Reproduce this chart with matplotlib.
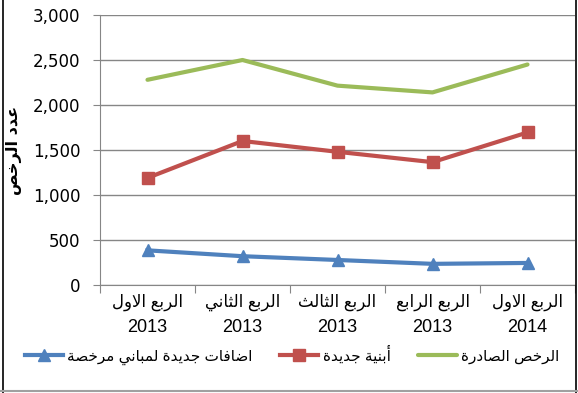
import numpy as np
import matplotlib
matplotlib.use("Agg")
from matplotlib import pyplot as plt
from matplotlib.lines import Line2D
from matplotlib.ticker import FuncFormatter, FixedLocator

# بيانات الرخص الصادرة لكل ربع
quarters = ["الربع الاول", "الربع الثاني", "الربع الثالث", "الربع الرابع", "الربع الاول"]
years = ["2013", "2013", "2013", "2013", "2014"]
issued = [2280, 2500, 2215, 2140, 2450]
new_buildings = [1190, 1600, 1480, 1365, 1695]
additions = [385, 320, 278, 235, 245]

series_names = ["الرخص الصادرة", "أبنية جديدة", "اضافات جديدة لمباني مرخصة"]
ylabel = "عدد الرخص"

# تشكيل الحروف العربية يدويا (لا يوجد arabic_reshaper)
FORMS = {
    'ا': (0xFE8D, 2), 'أ': (0xFE83, 2), 'ب': (0xFE8F, 4), 'ة': (0xFE93, 2),
    'ت': (0xFE95, 4), 'ث': (0xFE99, 4), 'ج': (0xFE9D, 4), 'خ': (0xFEA5, 4),
    'د': (0xFEA9, 2), 'ر': (0xFEAD, 2), 'ص': (0xFEB9, 4), 'ض': (0xFEBD, 4),
    'ع': (0xFEC9, 4), 'ف': (0xFED1, 4), 'ل': (0xFEDD, 4), 'م': (0xFEE1, 4),
    'ن': (0xFEE5, 4), 'و': (0xFEED, 2), 'ي': (0xFEF1, 4),
}


def dual(c):
    return c in FORMS and FORMS[c][1] == 4


def ar(s):
    res = []
    i = 0
    n = len(s)
    while i < n:
        c = s[i]
        if c not in FORMS:
            res.append(c)
            i += 1
            continue
        prev = s[i - 1] if i > 0 else None
        nxt = s[i + 1] if i + 1 < n else None
        conn_prev = dual(prev)
        if c == 'ل' and nxt in ('ا', 'أ'):
            base = 0xFEFB if nxt == 'ا' else 0xFEF7
            res.append(chr(base + (1 if conn_prev else 0)))
            i += 2
            continue
        base, nf = FORMS[c]
        conn_next = nf == 4 and nxt in FORMS
        if conn_prev and conn_next:
            k = 3
        elif conn_prev:
            k = 1
        elif conn_next:
            k = 2
        else:
            k = 0
        res.append(chr(base + k))
        i += 1
    return ''.join(reversed(res))


plt.rcParams['font.family'] = ['Liberation Sans', 'DejaVu Sans']

fig = plt.figure(figsize=(5.78, 3.93), dpi=100)
W, H = 578, 393
ax = fig.add_axes([100 / W, 1 - 285 / H, 475 / W, 270 / H])

x = np.arange(len(quarters))
green = '#9BBB59'
red = '#C0504D'
blue = '#4F81BD'

l1, = ax.plot(x, issued, color=green, lw=3, solid_capstyle='round', label=ar(series_names[0]))
l2, = ax.plot(x, new_buildings, color=red, lw=3, marker='s', ms=9, label=ar(series_names[1]))
l3, = ax.plot(x, additions, color=blue, lw=3, marker='^', ms=9, label=ar(series_names[2]))

ax.set_xlim(-0.5, len(quarters) - 0.5)
ax.set_ylim(0, 3000)
ax.set_yticks(np.arange(0, 3001, 500))
ax.yaxis.set_major_formatter(FuncFormatter(lambda v, p: f"{int(v):,}"))
ax.grid(axis='y', color='#868686', lw=1)
ax.set_axisbelow(True)

for s in ['top', 'right']:
    ax.spines[s].set_visible(False)
for s in ['left', 'bottom']:
    ax.spines[s].set_color('#868686')

ax.tick_params(axis='y', length=5, color='#868686', pad=9, labelsize=12)
for t in ax.get_yticklabels():
    t.set_fontfamily('DejaVu Sans')

# علامات الفئات على الحدود والتسميات في المنتصف
ax.xaxis.set_major_locator(FixedLocator(np.arange(-0.5, len(quarters), 1.0)))
ax.set_xticklabels([])
ax.tick_params(axis='x', which='major', length=6, color='#868686')
ax.xaxis.set_minor_locator(FixedLocator(x))
ax.set_xticklabels([ar(q) for q in quarters], minor=True)
ax.tick_params(axis='x', which='minor', length=0, pad=6, labelsize=12)
for xi, yr in zip(x, years):
    ax.text(xi, -47 / 270, yr, transform=ax.get_xaxis_transform(), ha='center',
            va='baseline', fontsize=13)

ax.set_ylabel(ar(ylabel), fontsize=11.5, fontweight='bold', family='DejaVu Sans')
ax.yaxis.set_label_coords(-78 / 475, 0.5)

fig.legend(handles=[l3, l2, l1], loc='center', bbox_to_anchor=(292 / W, 1 - 355 / H),
           ncol=3, frameon=False, fontsize=11, handlelength=2.5, handletextpad=0.3,
           columnspacing=1.8)

# إطار المخطط
fig.add_artist(Line2D([2.5 / W, 2.5 / W], [0, 1], color='black', lw=1.2, transform=fig.transFigure))
fig.add_artist(Line2D([576 / W, 576 / W], [0, 1], color='black', lw=1.2, transform=fig.transFigure))
fig.add_artist(Line2D([0, 1], [2 / H, 2 / H], color='#a0a0a0', lw=1.5, transform=fig.transFigure))

fig.savefig("out.png", dpi=100)
